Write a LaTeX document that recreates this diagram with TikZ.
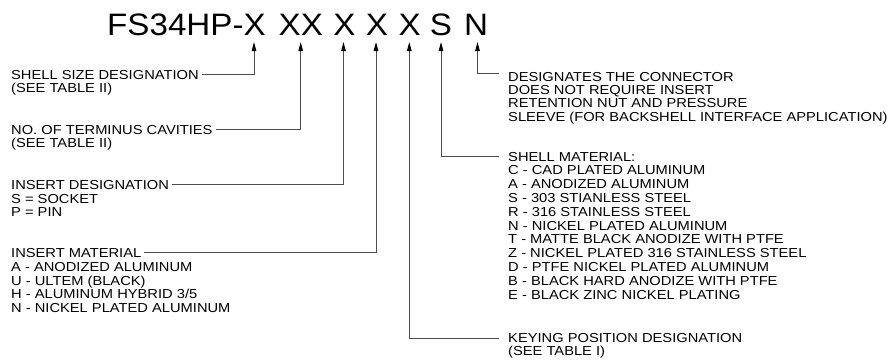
\documentclass[tikz,border=0pt]{standalone}
\usepackage{fontspec}
\setmainfont{Liberation Sans}[FakeStretch=1.13]
\newfontfamily\titlefont{Liberation Sans}[FakeStretch=1.07]
\usetikzlibrary{arrows.meta}
\begin{document}
\begin{tikzpicture}[x=1bp,y=-1bp,
  lbl/.style={inner ysep=0pt, inner xsep=3bp, anchor=base west,
    font=\fontsize{13bp}{13.75bp}\selectfont, text=black},
  head/.style={lbl, text height=9.3bp, text depth=0pt},
  rhead/.style={head, inner xsep=9bp},
  rlbl/.style={lbl, inner xsep=9bp},
  ttl/.style={inner sep=0pt, anchor=base, font=\titlefont\fontsize{31bp}{31bp}\selectfont},
  conn/.style={draw=black!70, line width=1bp,
    -{Triangle[length=9bp,width=4.5bp,color=black,fill=black]}}]
\useasboundingbox (0,0) rectangle (891,361);

% title
\node[ttl, anchor=base west] (t0) at (107,35) {FS34HP-X};
\node[ttl] (t1) at (300.8,35) {XX};
\node[ttl] (t2) at (344.5,35) {X};
\node[ttl] (t3) at (377,35) {X};
\node[ttl] (t4) at (409.7,35) {X};
\node[ttl] (t5) at (441,35) {S};
\node[ttl] (t6) at (476,35) {N};

% arrow tips
\coordinate (p1) at (254,42);
\coordinate (p2) at (300.7,42);
\coordinate (p3) at (343.5,42);
\coordinate (p4) at (376,42);
\coordinate (p5) at (409.3,42);
\coordinate (p6) at (441,42);
\coordinate (p7) at (477.5,42);

% left labels
\node[head] (shellH) at (8,79.3) {SHELL SIZE DESIGNATION};
\node[lbl] (shellB) at (8,92.6) {(SEE TABLE II)};

\node[head] (termH) at (8,134) {NO. OF TERMINUS CAVITIES};
\node[lbl] (termB) at (8,147.3) {(SEE TABLE II)};

\node[head] (insH) at (8,189.3) {INSERT DESIGNATION};
\foreach \t [count=\i] in {S = SOCKET, P = PIN}
  \node[lbl] (ins-\i) at (8,{189.3+13.7*\i}) {\t};

\node[head] (matH) at (8,257.3) {INSERT MATERIAL};
\foreach \t [count=\i] in {A - ANODIZED ALUMINUM, U - ULTEM (BLACK), H - ALUMINUM HYBRID 3/5, N - NICKEL PLATED ALUMINUM}
  \node[lbl] (mat-\i) at (8,{257.3+13.85*\i}) {\t};

% right labels
\node[rhead] (desH) at (499,81) {DESIGNATES THE CONNECTOR};
\foreach \t [count=\i] in {DOES NOT REQUIRE INSERT, RETENTION NUT AND PRESSURE, SLEEVE (FOR BACKSHELL INTERFACE APPLICATION)}
  \node[rlbl] (des-\i) at (499,{81+13.35*\i}) {\t};

\node[rhead] (shmH) at (499,161) {SHELL MATERIAL:};
\foreach \t [count=\i] in {C - CAD PLATED ALUMINUM, A - ANODIZED ALUMINUM, S - 303 STIANLESS STEEL, R - 316 STAINLESS STEEL, N - NICKEL PLATED ALUMINUM, T - MATTE BLACK ANODIZE WITH PTFE, Z - NICKEL PLATED 316 STAINLESS STEEL, D - PTFE NICKEL PLATED ALUMINUM, B - BLACK HARD ANODIZE WITH PTFE, E - BLACK ZINC NICKEL PLATING}
  \node[rlbl] (shm-\i) at (499,{161+13.83*\i}) {\t};

\node[rhead] (keyH) at (499,342.7) {KEYING POSITION DESIGNATION};
\node[rlbl] (keyB) at (499,355.6) {(SEE TABLE I)};

% connectors
\draw[conn] (shellH.east) -| (p1);
\draw[conn] (termH.east) -| (p2);
\draw[conn] (insH.east) -| (p3);
\draw[conn] (matH.east) -| (p4);
\draw[conn] (keyH.west) -| (p5);
\draw[conn] (shmH.west) -| (p6);
\draw[conn] ([yshift=3bp]desH.west) -| (p7);
\end{tikzpicture}
\end{document}
